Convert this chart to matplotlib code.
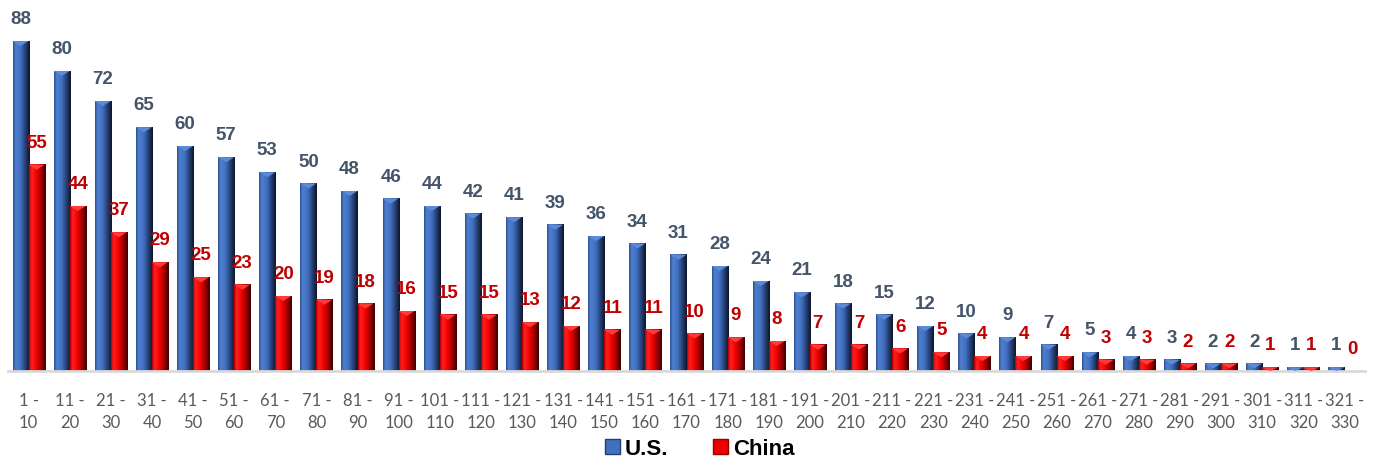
import matplotlib.pyplot as plt
import numpy as np
from matplotlib.patches import Polygon, Patch

plt.rcParams['font.family'] = ['Lato', 'DejaVu Sans']
BOLD = ['Liberation Sans', 'DejaVu Sans']

# Rank ranges and counts per country
ranges = ["1 -\n10", "11 -\n20", "21 -\n30", "31 -\n40", "41 -\n50", "51 -\n60",
          "61 -\n70", "71 -\n80", "81 -\n90", "91 -\n100", "101 -\n110", "111 -\n120",
          "121 -\n130", "131 -\n140", "141 -\n150", "151 -\n160", "161 -\n170",
          "171 -\n180", "181 -\n190", "191 -\n200", "201 -\n210", "211 -\n220",
          "221 -\n230", "231 -\n240", "241 -\n250", "251 -\n260", "261 -\n270",
          "271 -\n280", "281 -\n290", "291 -\n300", "301 -\n310", "311 -\n320",
          "321 -\n330"]
us = [88, 80, 72, 65, 60, 57, 53, 50, 48, 46, 44, 42, 41, 39, 36, 34, 31, 28,
      24, 21, 18, 15, 12, 10, 9, 7, 5, 4, 3, 2, 2, 1, 1]
china = [55, 44, 37, 29, 25, 23, 20, 19, 18, 16, 15, 15, 13, 12, 11, 11, 10, 9,
         8, 7, 7, 6, 5, 4, 4, 4, 3, 3, 2, 2, 1, 1, 0]


def gradient(stops):
    pos = np.linspace(0, 1, 64)
    xs = [s[0] for s in stops]
    cols = np.array([plt.matplotlib.colors.to_rgb(s[1]) for s in stops])
    rgb = np.stack([np.interp(pos, xs, cols[:, i]) for i in range(3)], axis=-1)
    return rgb[np.newaxis, :, :]


us_grad = gradient([(0, "#2c4f8f"), (0.15, "#4f7fd0"), (0.45, "#4170c0"),
                    (0.75, "#253d70"), (1, "#0c1428")])
cn_grad = gradient([(0, "#b00000"), (0.15, "#ff2020"), (0.45, "#f00000"),
                    (0.75, "#950000"), (1, "#3a0000")])

fig = plt.figure(figsize=(13.85, 4.64), dpi=100)
ax = fig.add_axes([8 / 1385, 92 / 464, 1357 / 1385, 372 / 464])

x = np.arange(len(ranges))
w = 0.39
top = 99.2
px = top / 372  # data units per pixel vertically


def bevel_bar(xc, h, grad, top_col):
    if h <= 0:
        return
    x0, x1 = xc - w / 2, xc + w / 2
    ax.imshow(grad, extent=(x0, x1, 0, h), aspect='auto', zorder=2,
              interpolation='bilinear')
    d = min(5 * px, h)
    ax.add_patch(Polygon([(x0, h), (x1, h), (xc, h - d)], closed=True,
                         facecolor=top_col, edgecolor='none', zorder=3))


for i in range(len(ranges)):
    bevel_bar(x[i] - w / 2, us[i], us_grad, "#5b8ad8")
    bevel_bar(x[i] + w / 2, china[i], cn_grad, "#ff3b3b")
    ax.annotate(str(us[i]), (x[i] - w / 2, us[i]), xytext=(0, 10),
                textcoords='offset points', ha='center', va='bottom',
                fontsize=13.5, fontweight='bold', color="#44546a", family=BOLD)
    ax.annotate(str(china[i]), (x[i] + w / 2, china[i]), xytext=(0, 10),
                textcoords='offset points', ha='center', va='bottom',
                fontsize=13.5, fontweight='bold', color="#c00000", family=BOLD)

ax.set_xlim(-0.5, len(ranges) - 0.5)
ax.set_ylim(0, top)
ax.set_xticks(x)
ax.set_xticklabels(ranges, fontsize=12, color="#595959", linespacing=1.5)
ax.tick_params(axis='x', length=0, pad=15)
ax.set_yticks([])
for s in ["top", "right", "left"]:
    ax.spines[s].set_visible(False)
ax.spines["bottom"].set_color("#d9d9d9")
ax.spines["bottom"].set_linewidth(2)

handles = [Patch(facecolor="#4170c0", edgecolor="#253d70", label="U.S."),
           Patch(facecolor="#f00000", edgecolor="#950000", label="China")]
fig.legend(handles=handles, loc='lower center', bbox_to_anchor=(0.505, -0.035),
           ncol=2, frameon=False, handlelength=0.7, handleheight=0.7,
           handletextpad=0.2, columnspacing=2.0,
           prop={'size': 16, 'weight': 'bold', 'family': BOLD})

fig.savefig("out.png", dpi=100)
